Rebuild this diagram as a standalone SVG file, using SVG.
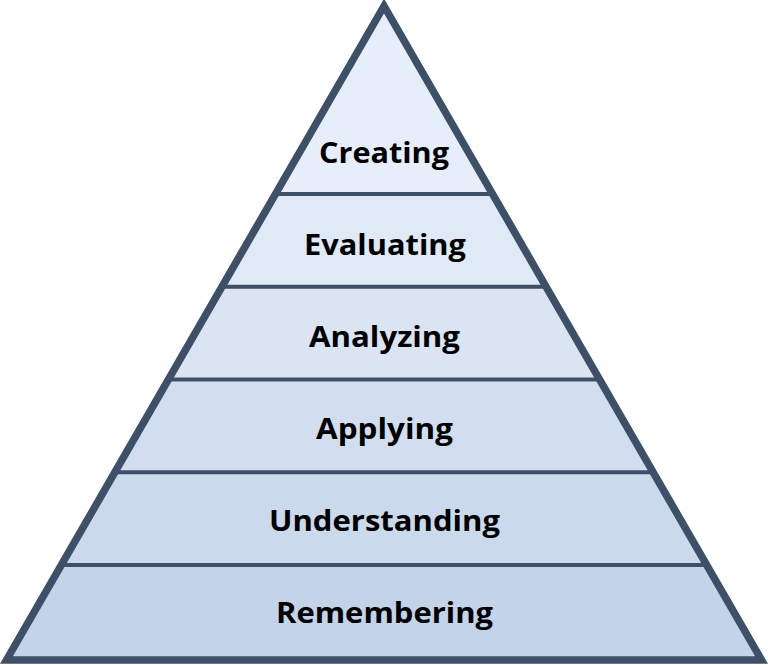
<svg xmlns="http://www.w3.org/2000/svg" width="768" height="665" viewBox="0 0 768 665">
<style>
.lbl{font-family:"Open Sans","DejaVu Sans",sans-serif;font-weight:bold;font-size:29px;fill:#000;text-anchor:middle}
.div{stroke:#3D5068;stroke-width:4}
.outline{fill:none;stroke:#3D5068;stroke-width:7.5;stroke-linejoin:miter}
</style>
<g id="creating">
<polygon points="384,6 274.9,194 493.1,194" fill="#E6EEFA"/>
<text class="lbl" x="384" y="163" textLength="130" lengthAdjust="spacingAndGlyphs">Creating</text>
</g>
<g id="evaluating">
<polygon points="274.9,194 221.4,286.75 546.6,286.75 493.1,194" fill="#E0E9F6"/>
<text class="lbl" x="385" y="255" textLength="162" lengthAdjust="spacingAndGlyphs">Evaluating</text>
</g>
<g id="analyzing">
<polygon points="221.4,286.75 167.9,379.5 600.1,379.5 546.6,286.75" fill="#DAE4F2"/>
<text class="lbl" x="384.5" y="347" textLength="151" lengthAdjust="spacingAndGlyphs">Analyzing</text>
</g>
<g id="applying">
<polygon points="167.9,379.5 114.4,472.25 653.6,472.25 600.1,379.5" fill="#D2DEEF"/>
<text class="lbl" x="384.5" y="439" textLength="137" lengthAdjust="spacingAndGlyphs">Applying</text>
</g>
<g id="understanding">
<polygon points="114.4,472.25 61,565 707,565 653.6,472.25" fill="#CAD9EC"/>
<text class="lbl" x="384.5" y="531" textLength="231" lengthAdjust="spacingAndGlyphs">Understanding</text>
</g>
<g id="remembering">
<polygon points="61,565 6.5,660 761.5,660 707,565" fill="#C3D4E9"/>
<text class="lbl" x="384.5" y="623" textLength="217" lengthAdjust="spacingAndGlyphs">Remembering</text>
</g>
<g id="connectors">
<line class="div" x1="274.9" y1="194" x2="493.1" y2="194"/>
<line class="div" x1="221.4" y1="286.75" x2="546.6" y2="286.75"/>
<line class="div" x1="167.9" y1="379.5" x2="600.1" y2="379.5"/>
<line class="div" x1="114.4" y1="472.25" x2="653.6" y2="472.25"/>
<line class="div" x1="61" y1="565" x2="707" y2="565"/>
<polygon class="outline" points="384,6 6.5,660 761.5,660"/>
</g>
</svg>
